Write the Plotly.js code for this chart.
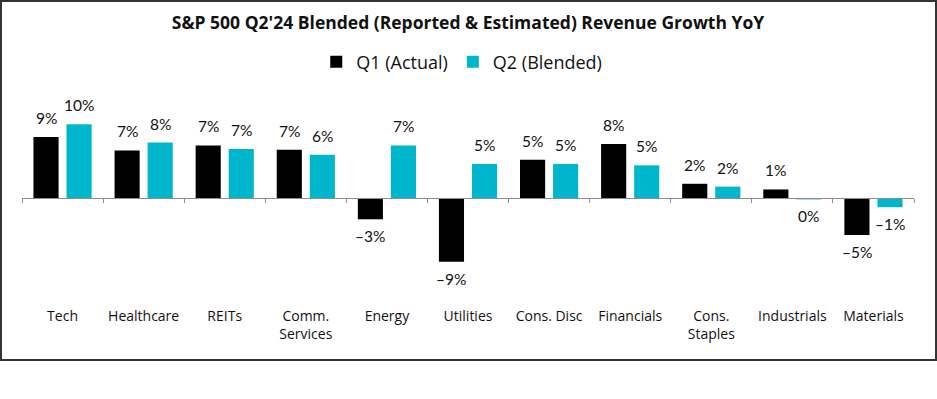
<!DOCTYPE html>
<html>
<head>
<meta charset="utf-8">
<script src="https://cdn.plot.ly/plotly-3.0.1.min.js"></script>
<style>
  html, body { margin: 0; padding: 0; background: #fff; }
  #wrap { position: relative; width: 937px; height: 399px; }
  #chart { position: absolute; left: 0; top: 0; width: 937px; height: 399px; }
  #frame { position: absolute; left: 0px; top: 0px; width: 937px; height: 361px;
           border: 2px solid #333; box-sizing: border-box; pointer-events: none; }
</style>
</head>
<body>
<div id="wrap">
  <div id="chart"></div>
  <div id="frame"></div>
</div>
<script>
const categories = ["Tech", "Healthcare", "REITs", "Comm.<br>Services", "Energy", "Utilities",
                    "Cons. Disc", "Financials", "Cons.<br>Staples", "Industrials", "Materials"];
const q1Actual  = [8.6, 6.7, 7.4, 6.8, -3.0, -9.0, 5.4, 7.6, 2.0, 1.2, -5.2];
const q2Blended = [10.4, 7.8, 6.9, 6.1, 7.4, 4.8, 4.8, 4.6, 1.6, -0.2, -1.3];
const seriesNames = ["Q1 (Actual)", "Q2 (Blended)"];
const seriesColors = ["#000000", "#00B6CD"];

const TITLE_FONT = "'Open Sans', sans-serif";
const FONT = "'Open Sans', sans-serif";
const LABEL_FONT = "Lato, 'Open Sans', sans-serif";
const yMin = -14.37, yMax = 15.49;
const W = 937, H = 399, ML = 22, MR = 23, MT = 88, MB = 99;
const BARGAP = 0.185, BARGROUPGAP = 0.24;

function fmt(v) {
  const r = Math.round(v);
  return (r < 0 ? "\u2013" : "") + Math.abs(r) + "%";
}

const allSeries = [q1Actual, q2Blended];
const traces = allSeries.map((vals, s) => ({
  type: "bar", name: seriesNames[s], x: categories, y: vals,
  marker: { color: seriesColors[s], line: { width: 0 } }
}));

// value labels placed through the axes (offset to the grouped bar centres)
const catPx = (W - ML - MR) / categories.length;
const slotPx = catPx * (1 - BARGAP) / allSeries.length;
const annotations = [];
allSeries.forEach((vals, s) => {
  vals.forEach((v, i) => {
    const pos = v >= 0;
    annotations.push({
      x: categories[i], y: v, xref: "x", yref: "y",
      xshift: (s - (allSeries.length - 1) / 2) * slotPx,
      yshift: pos ? 8 : -6,
      yanchor: pos ? "bottom" : "top", xanchor: "center",
      text: fmt(v), showarrow: false,
      font: { family: LABEL_FONT, size: 15.5, color: "#111" }
    });
  });
});

const layout = {
  width: W, height: H,
  margin: { l: ML, r: MR, t: MT, b: MB },
  paper_bgcolor: "#fff", plot_bgcolor: "#fff",
  font: { family: FONT, color: "#111" },
  title: { text: "<b>S&P 500 Q2'24 Blended (Reported & Estimated) Revenue Growth YoY</b>",
           font: { family: TITLE_FONT, size: 17.5, color: "#111" },
           x: 0.5, xref: "paper", xanchor: "center", y: 1 - 23 / H, yanchor: "middle" },
  barmode: "group", bargap: BARGAP, bargroupgap: BARGROUPGAP,
  showlegend: true,
  legend: { orientation: "h", x: 0.493, xanchor: "center", y: 1 + 26 / (H - MT - MB), yanchor: "middle",
            font: { family: FONT, size: 18, color: "#111" }, itemwidth: 30,
            bgcolor: "rgba(0,0,0,0)", traceorder: "normal" },
  annotations: annotations,
  xaxis: { anchor: "free", position: -yMin / (yMax - yMin),
           showline: true, linecolor: "#8c8c8c", linewidth: 1,
           ticks: "outside", tickson: "boundaries", ticklen: 4, tickcolor: "#8c8c8c",
           ticklabelstandoff: 105,
           tickfont: { family: FONT, size: 14, color: "#111" },
           showgrid: false, zeroline: false, fixedrange: true },
  yaxis: { range: [yMin, yMax], visible: false, showgrid: false, zeroline: false, fixedrange: true }
};

Plotly.newPlot("chart", traces, layout, { displayModeBar: false, staticPlot: true });
</script>
</body>
</html>
